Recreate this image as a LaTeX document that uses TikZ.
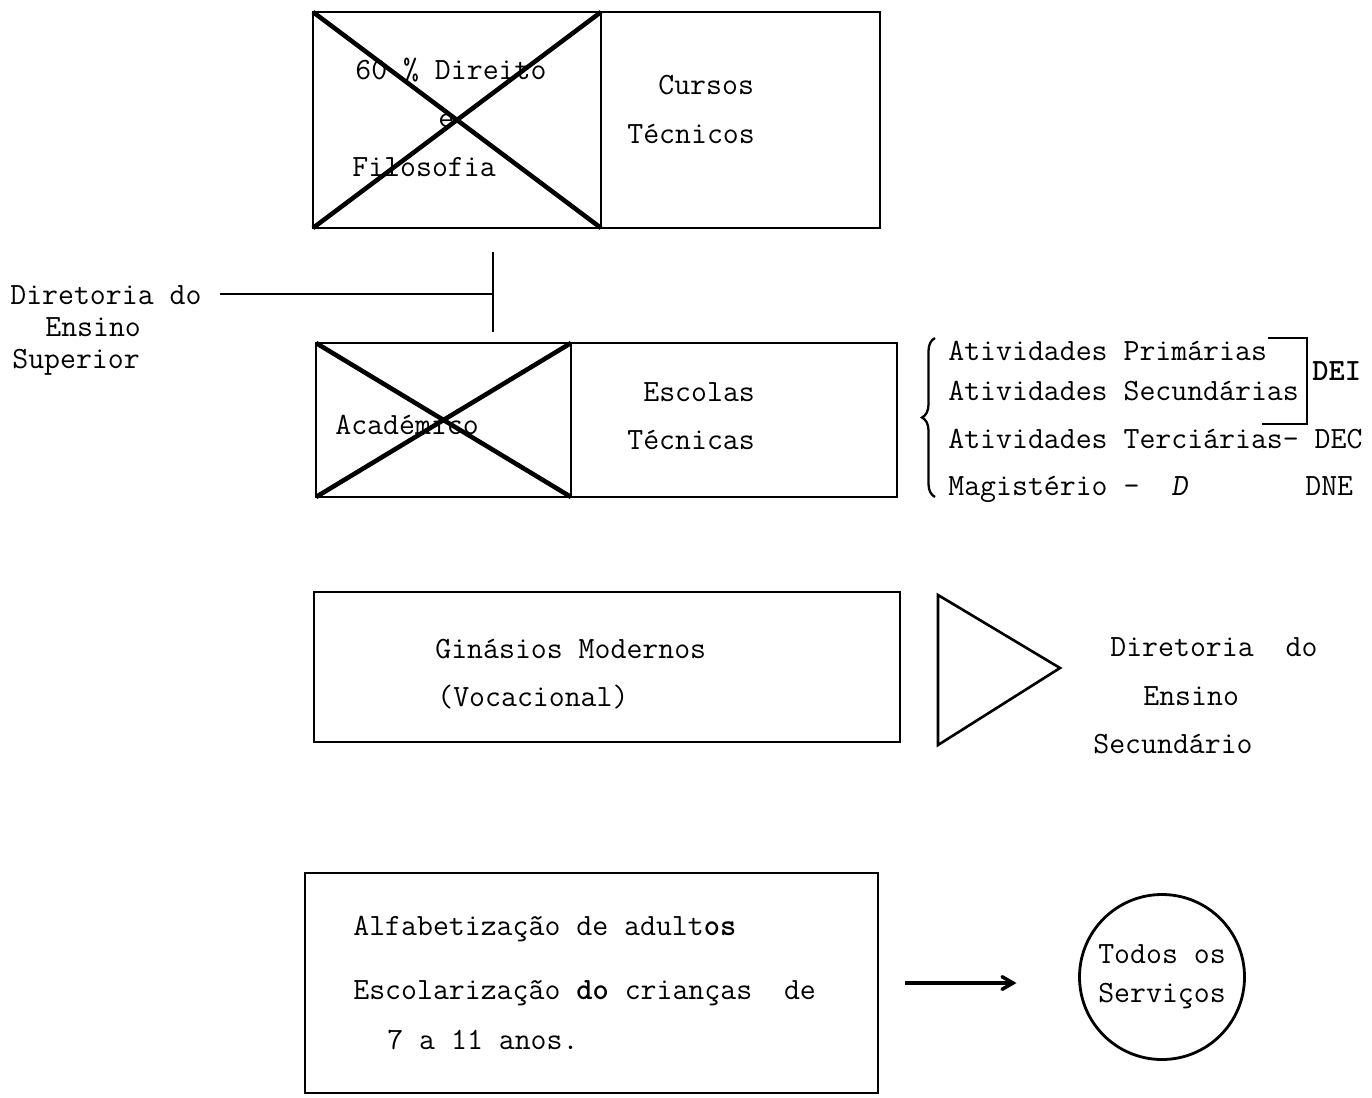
\documentclass[tikz,border=0pt]{standalone}
\usepackage{fontspec}
\usepackage{tikz}
\usetikzlibrary{arrows,positioning,decorations.pathreplacing}
\newcommand{\typew}{\ttfamily\fontsize{17.6pt}{20pt}\selectfont}

\begin{document}
\begin{tikzpicture}[x=0.2mm,y=-0.2mm,
    cell/.style={draw,line width=1.6pt,inner sep=0pt,outer sep=0pt},
    cross/.style={line width=2.6pt},
    txt/.style={inner sep=0pt,anchor=base west,font=\typew}]
    \useasboundingbox (0,0) rectangle (1372,1097);
    % boxes
    \node[cell,minimum width=57.6mm,minimum height=43.2mm] (topL) at (457,120) {};
    \node[cell,minimum width=55.8mm,minimum height=43.2mm,right=0pt of topL] (topR) {};
    \node[cell,minimum width=51mm,minimum height=30.8mm] (midL) at (443.5,420) {};
    \node[cell,minimum width=65.2mm,minimum height=30.8mm,right=0pt of midL] (midR) {};
    \node[cell,minimum width=117.2mm,minimum height=30mm] (gin) at (607,667) {};
    \node[cell,minimum width=114.6mm,minimum height=44mm] (alf) at (591.5,983) {};
    \node[cell,circle,minimum size=33mm,align=center,
          font=\ttfamily\fontsize{17.6pt}{22pt}\selectfont] (todos) at (1162,977) {Todos os\\Serviços};
    % crossed cells
    \draw[cross] (topL.north west) -- (topL.south east)
                 (topL.south west) -- (topL.north east);
    \draw[cross] (midL.north west) -- (midL.south east)
                 (midL.south west) -- (midL.north east);
    % texts
    \node[txt] (dir) at (355,80) {60 \% Direito};
    \node[txt] (e) at (438,127) {e};
    \node[txt] (filo) at (352,176) {Filosofia};
    \node[txt] (cursos) at (658,95) {Cursos};
    \node[txt] (tecnicos) at (627,143) {Técnicos};
    \node[txt] (supA) at (10,304) {Diretoria do};
    \node[txt] (supB) at (45,336) {Ensino};
    \node[txt] (supC) at (12,368) {Superior};
    \node[txt] (acad) at (335,434) {Académico};
    \node[txt] (escolas) at (643,401) {Escolas};
    \node[txt] (tecnicas) at (627,449) {Técnicas};
    \node[txt] (prim) at (948,360) {Atividades Primárias};
    \node[txt] (sec) at (948,400) {Atividades Secundárias};
    \node[txt] (terc) at (948,448) {Atividades Terciárias- DEC};
    \node[txt] (mag) at (948,495) {Magistério -~~\textsl{D}};
    \node[txt] (dei) at (1312,380) {\textbf{DEI}};
    \node[txt] (dne) at (1305,495) {DNE};
    \node[txt] (ginasios) at (435,658) {Ginásios Modernos};
    \node[txt] (voc) at (437,706) {(Vocacional)};
    \node[txt] (dsA) at (1110,656) {Diretoria\ \ do};
    \node[txt] (dsB) at (1143,705) {Ensino};
    \node[txt] (dsC) at (1093,753) {Secundário};
    \node[txt] (alfab) at (353,935) {Alfabetização de adult\textbf{os}};
    \node[txt] (escol) at (353,999) {Escolarização \textbf{do} crianças\ \ de};
    \node[txt] (anos) at (387,1049) {7 a 11 anos.};
    % lines
    \coordinate (vt) at (493,252);
    \coordinate (vb) at (493,332);
    \coordinate (jn) at (493,294);
    \coordinate (brB) at (935,497);
    \coordinate (brT) at (935,338);
    \draw[line width=1.2pt] (vt) -- (vb);
    \draw[line width=1.2pt,shorten <=3.6mm] (supA.east |- jn) -- (jn);
    \draw[line width=1.3pt,decorate,decoration={brace,amplitude=2.6mm}] (brB) -- (brT);
    \draw[line width=1.1pt] (1268,338) -- (1307,338) -- (1307,424) -- (1262,424);
    \draw[line width=1.5pt] (938,595) -- (938,745) -- (1060,668) -- cycle;
    \draw[->,>=angle 60,line width=2pt,shorten <=5.4mm,shorten >=12.6mm]
        (alf.east) -- (alf.east -| todos.west);
\end{tikzpicture}
\end{document}
